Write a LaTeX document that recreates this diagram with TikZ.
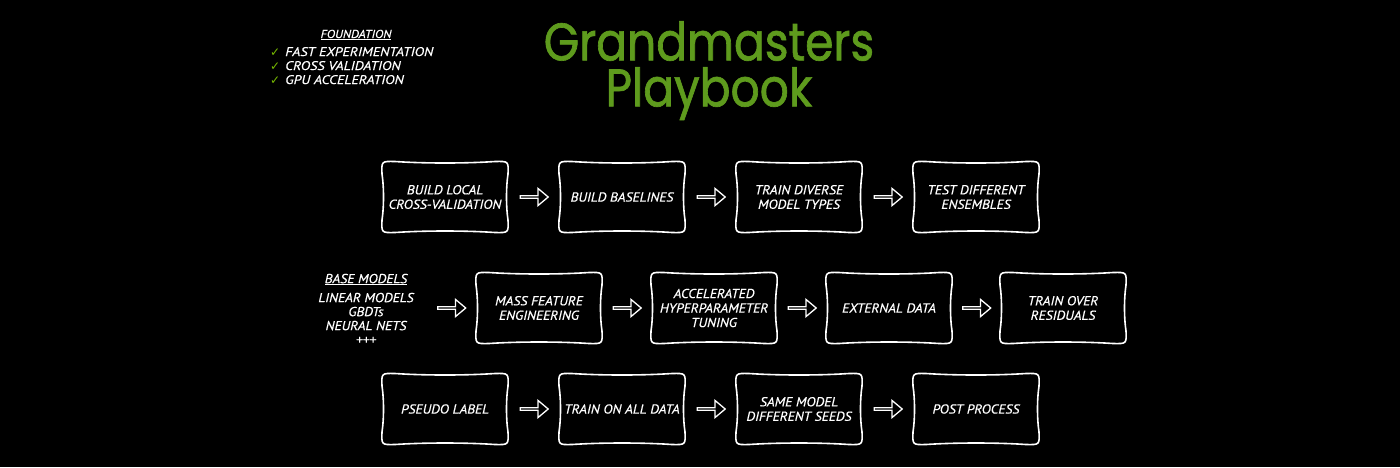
\documentclass[tikz,border=0pt]{standalone}
\usepackage{fontspec}
\setmainfont{PT Sans}
\newfontfamily\titlefont[FakeStretch=0.86,FakeBold=1.2]{Poppins}
\newfontfamily\symfont{DejaVu Sans}
\newfontfamily\boxfont[FakeStretch=1.07,FakeBold=0.5]{PT Sans}
\newfontfamily\listfont[FakeStretch=1.15,FakeBold=0.4]{PT Sans}
\newfontfamily\headfont[FakeStretch=1.1,FakeBold=0.4]{PT Sans}
\usetikzlibrary{shapes.arrows}
\definecolor{nvgreen}{HTML}{76B900}
\definecolor{titlegreen}{HTML}{5E9B1D}
\tikzset{
  boxtext/.style={text=white, font=\boxfont\itshape\fontsize{13}{14.5}\selectfont, align=center,
    minimum width=126pt, minimum height=71pt, inner sep=0pt},
  boxline/.style={draw=white, line width=1.6pt, line join=round},
  blockarrow/.style={single arrow, draw=white, line width=1.3pt, minimum width=17pt,
    minimum height=28pt, single arrow head extend=4pt, single arrow tip angle=80,
    inner sep=0pt, fill=black},
  listtext/.style={text=white, font=\listfont\itshape\fontsize{12.5}{14}\selectfont, inner sep=0pt},
  headtext/.style={text=white, font=\headfont\itshape\fontsize{11.5}{14}\selectfont, inner sep=0pt},
  titletext/.style={text=titlegreen, font=\titlefont\fontsize{53}{46}\selectfont, inner sep=0pt, align=center},
}
\newcommand\checkmk{\textcolor{nvgreen}{\symfont\fontsize{12}{12}\selectfont ✓}\hspace{5pt}}
\newcommand\cushion[1]{%
  \draw[boxline, shift={(#1.center)}]
   (-63,-23) .. controls (-63.5,-35.8) and (-63.5,-35.8) .. (-50,-35.5)
   .. controls (-20,-33.5) and (20,-33.5) .. (50,-35.5)
   .. controls (63.5,-35.8) and (63.5,-35.8) .. (63,-23)
   .. controls (61,-10) and (61,10) .. (63,23)
   .. controls (63.5,35.8) and (63.5,35.8) .. (50,35.5)
   .. controls (20,33.5) and (-20,33.5) .. (-50,35.5)
   .. controls (-63.5,35.8) and (-63.5,35.8) .. (-63,23)
   .. controls (-61,10) and (-61,-10) .. cycle;}
\begin{document}
\begin{tikzpicture}[x=1pt,y=-1pt]
\useasboundingbox[fill=black] (0,0) rectangle (1400,467);

% title
\node[titletext, anchor=north] (title) at (709,21) {Grandmasters\\Playbook};

% foundation
\node[headtext, anchor=base] (fh) at (356,38) {\underline{FOUNDATION}};
\node[listtext, anchor=base west] (f1) at (270,56) {\checkmk FAST EXPERIMENTATION};
\node[listtext, anchor=base west] (f2) at (270,70) {\checkmk CROSS VALIDATION};
\node[listtext, anchor=base west] (f3) at (270,84) {\checkmk GPU ACCELERATION};

% row 1
\node[boxtext] (r1a) at (445,197) {BUILD LOCAL\\CROSS-VALIDATION};
\node[boxtext] (r1b) at (622,197) {BUILD BASELINES};
\node[boxtext] (r1c) at (799,197) {TRAIN DIVERSE\\MODEL TYPES};
\node[boxtext] (r1d) at (976,197) {TEST DIFFERENT\\ENSEMBLES};

% row 2
\node[text=white, font=\boxfont\itshape\fontsize{13}{14}\selectfont, align=center, inner sep=0pt] (bm) at (366,309)
  {\underline{BASE MODELS}\\[5pt]LINEAR MODELS\\GBDTs\\NEURAL NETS\\+++};
\node[boxtext] (r2a) at (539,308) {MASS FEATURE\\ENGINEERING};
\node[boxtext] (r2b) at (714,308) {ACCELERATED\\HYPERPARAMETER\\TUNING};
\node[boxtext] (r2c) at (889,308) {EXTERNAL DATA};
\node[boxtext] (r2d) at (1063,308) {TRAIN OVER\\RESIDUALS};

% row 3
\node[boxtext] (r3a) at (445,409) {PSEUDO LABEL};
\node[boxtext] (r3b) at (622,409) {TRAIN ON ALL DATA};
\node[boxtext] (r3c) at (799,409) {SAME MODEL\\DIFFERENT SEEDS};
\node[boxtext] (r3d) at (976,409) {POST PROCESS};

\foreach \n in {r1a,r1b,r1c,r1d,r2a,r2b,r2c,r2d,r3a,r3b,r3c,r3d} {\cushion{\n}}

% connectors
\path (r1a) -- node[blockarrow] {} (r1b);
\path (r1b) -- node[blockarrow] {} (r1c);
\path (r1c) -- node[blockarrow] {} (r1d);
\path (bm.east |- r2a.west) -- node[blockarrow, pos=0.6] {} (r2a.west);
\path (r2a) -- node[blockarrow] {} (r2b);
\path (r2b) -- node[blockarrow] {} (r2c);
\path (r2c) -- node[blockarrow] {} (r2d);
\path (r3a) -- node[blockarrow] {} (r3b);
\path (r3b) -- node[blockarrow] {} (r3c);
\path (r3c) -- node[blockarrow] {} (r3d);
\end{tikzpicture}
\end{document}
